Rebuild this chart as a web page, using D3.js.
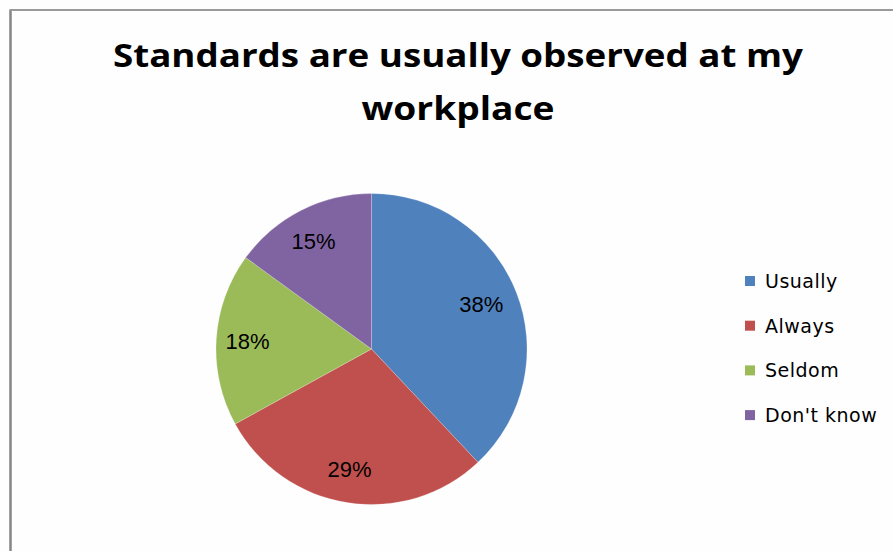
<!DOCTYPE html>
<html>
<head>
<meta charset="utf-8">
<script src="https://cdn.jsdelivr.net/npm/d3@7"></script>
<style>
  html, body { margin: 0; padding: 0; background: #fefefe; }
  svg { display: block; }
</style>
</head>
<body>
<svg id="chart" width="893" height="551"></svg>
<script>
const titleLines = ["Standards are usually observed at my", "workplace"];
const categories = ["Usually", "Always", "Seldom", "Don't know"];
const values = [38, 29, 18, 15];
const colors = ["#4F81BD", "#C0504D", "#9BBB59", "#8064A2"];

const svg = d3.select("#chart");
const W = 893, H = 551;

svg.append("rect").attr("width", W).attr("height", H).attr("fill", "#fefefe");

// chart frame (left and top edges visible)
svg.append("line").attr("x1", 10.5).attr("y1", 10).attr("x2", 10.5).attr("y2", H)
  .attr("stroke", "#858585").attr("stroke-width", 2.5);
svg.append("line").attr("x1", 9.5).attr("y1", 10).attr("x2", W).attr("y2", 10)
  .attr("stroke", "#9a9a9a").attr("stroke-width", 2);

// title
const title = svg.append("text")
  .attr("text-anchor", "middle")
  .attr("font-family", "'Open Sans', 'DejaVu Sans', sans-serif")
  .attr("font-weight", "bold")
  .attr("font-size", 33)
  .attr("fill", "#000");
const titleLens = [690, 193];
titleLines.forEach((t, i) => {
  title.append("tspan")
    .attr("x", 458).attr("y", 67 + i * 53)
    .attr("textLength", titleLens[i])
    .attr("lengthAdjust", "spacingAndGlyphs")
    .text(t);
});

// pie
const cx = 371.5, cy = 349, r = 155.5;
const data = categories.map((c, i) => ({ cat: c, value: values[i], color: colors[i] }));
const pie = d3.pie().value(d => d.value).sort(null);
const arcs = pie(data);
const arc = d3.arc().innerRadius(0).outerRadius(r);
const labelArc = d3.arc().innerRadius(r * 0.78).outerRadius(r * 0.78);

const g = svg.append("g").attr("transform", `translate(${cx},${cy})`);
g.selectAll("path.slice").data(arcs).join("path")
  .attr("class", "slice")
  .attr("d", arc)
  .attr("fill", d => d.data.color)
  .attr("stroke", "rgba(255,255,255,0.35)")
  .attr("stroke-width", 0.6);

const total = d3.sum(values);
g.selectAll("text.lbl").data(arcs).join("text")
  .attr("class", "lbl")
  .attr("transform", d => {
    const [x, y] = labelArc.centroid(d);
    return `translate(${x - 3},${y})`;
  })
  .attr("text-anchor", "middle")
  .attr("dy", "0.36em")
  .attr("font-family", "'Liberation Sans', Arial, sans-serif")
  .attr("font-size", 22)
  .attr("fill", "#000")
  .text(d => Math.round(d.data.value / total * 100) + "%");

// legend
const legend = svg.append("g").attr("transform", "translate(745,281)");
const rowH = 44.7;
const item = legend.selectAll("g.item").data(data).join("g")
  .attr("class", "item")
  .attr("transform", (d, i) => `translate(0,${i * rowH})`);
item.append("rect")
  .attr("x", 0).attr("y", -5).attr("width", 10).attr("height", 10)
  .attr("fill", d => d.color);
item.append("text")
  .attr("x", 20).attr("y", 0).attr("dy", "0.36em")
  .attr("font-family", "'DejaVu Sans', sans-serif")
  .attr("font-size", 19)
  .attr("letter-spacing", 0.5)
  .attr("fill", "#000")
  .text(d => d.cat);
</script>
</body>
</html>
